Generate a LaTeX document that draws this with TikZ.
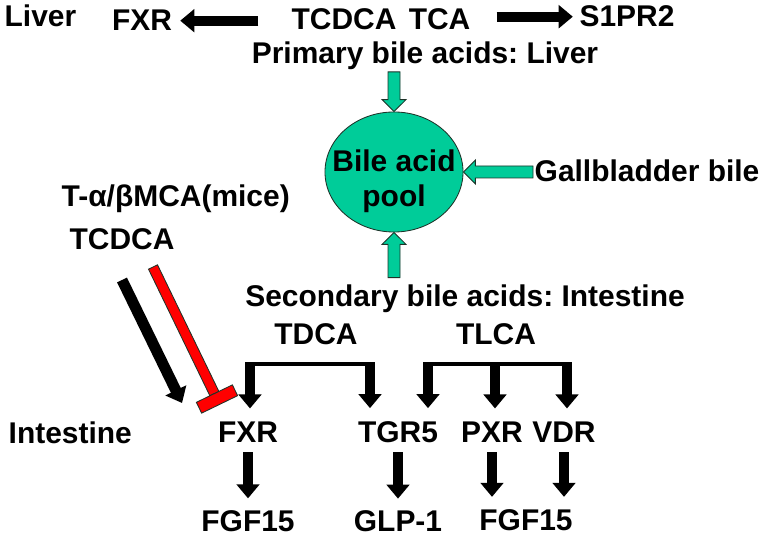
\documentclass[tikz,border=0pt]{standalone}
\usepackage{fontspec}
\setmainfont{Liberation Sans}
\frenchspacing
\usetikzlibrary{arrows.meta,calc,positioning,shapes.geometric}
\definecolor{greeni}{RGB}{0,204,153}
\definecolor{redi}{RGB}{255,0,0}
\definecolor{edgei}{RGB}{30,50,40}
\tikzset{
      mylabel/.style={
        font=\fontsize{21.3}{25}\selectfont\bfseries,
        inner sep=1pt,
        anchor=base
      },
      mypool/.style={
        ellipse,
        fill=greeni,
        draw=edgei,
        line width=0.6pt,
        inner sep=0pt,
        minimum width=3.45cm,
        minimum height=3cm
      },
      myarrow/.style={
        line width=7.1pt,
        -{Triangle[width=16pt,length=10pt]}
      },
      mybracket/.style={
        line width=2.8pt
      },
      mygreenarrow/.style={
        fill=greeni,
        draw=edgei,
        line width=0.6pt,
        to path={let \p1=($(\tikztotarget)-(\tikztostart)$),
                     \n1={atan2(\y1,\x1)},
                     \n2={veclen(\x1,\y1)-8.5} in
          ($(\tikztostart)+(\n1+90:0.15cm)$)
          -- ($(\tikztostart)+(\n1:\n2)+(\n1+90:0.15cm)$)
          -- ($(\tikztostart)+(\n1:\n2)+(\n1+90:0.3cm)$)
          -- (\tikztotarget)
          -- ($(\tikztostart)+(\n1:\n2)+(\n1-90:0.3cm)$)
          -- ($(\tikztostart)+(\n1:\n2)+(\n1-90:0.15cm)$)
          -- ($(\tikztostart)+(\n1-90:0.15cm)$) -- cycle}
      },
      myredbar/.style={
        fill=redi,
        draw=edgei,
        line width=0.6pt,
        to path={let \p1=($(\tikztotarget)-(\tikztostart)$),
                     \n1={atan2(\y1,\x1)},
                     \n2={veclen(\x1,\y1)-4.27} in
          ($(\tikztostart)+(\n1+90:0.125cm)$)
          -- ($(\tikztostart)+(\n1:\n2)+(\n1+90:0.125cm)$)
          -- ($(\tikztostart)+(\n1:\n2)+(\n1-90:0.125cm)$)
          -- ($(\tikztostart)+(\n1-90:0.125cm)$) -- cycle
          ($(\tikztotarget)+(\n1:0.15cm)+(\n1+90:0.5cm)$)
          -- ($(\tikztotarget)+(\n1:0.15cm)+(\n1-90:0.5cm)$)
          -- ($(\tikztotarget)+(\n1:-0.15cm)+(\n1-90:0.5cm)$)
          -- ($(\tikztotarget)+(\n1:-0.15cm)+(\n1+90:0.5cm)$) -- cycle}
      }
    }
\begin{document}
\begin{tikzpicture}[x=0.025cm,y=-0.025cm]
          \useasboundingbox (0,0) rectangle (760,536);

          % liver row
          \node[mylabel,anchor=base west] (liver) at (3,27) {Liver};
          \node[mylabel] (fxrl) at (142,31) {FXR};
          \node[mylabel,anchor=base west] (tcdcal) at (290,30) {TCDCA};
          \node[mylabel,anchor=base east] (tcal) at (472,30) {TCA};
          \node[mylabel] (s1pr) at (627,27) {S1PR2};
          \node[mylabel] (prim) at (425,64) {Primary bile acids: Liver};

          % pool
          \node[mypool] (pool) at (394,172) {};
          \node[mylabel,anchor=center,align=center] (pooltext) at (394,181.5) {Bile acid\\pool};
          \node[mylabel,anchor=base west] (gall) at (533,182) {Gallbladder bile};

          % intestine
          \node[mylabel,anchor=base west] (mca) at (60,207) {T-α/βMCA(mice)};
          \node[mylabel,anchor=base west] (tcdcai) at (68,250) {TCDCA};
          \node[mylabel] (sec) at (465,307) {Secondary bile acids: Intestine};
          \node[mylabel] (tdca) at (316,344) {TDCA};
          \node[mylabel] (tlca) at (496,345) {TLCA};
          \node[mylabel,anchor=base west] (intest) at (7,443) {Intestine};
          \node[mylabel] (fxri) at (248,442) {FXR};
          \node[mylabel] (tgr) at (398,442) {TGR5};
          \node[mylabel] (pxr) at (492,442) {PXR};
          \node[mylabel] (vdr) at (564,442) {VDR};
          \node[mylabel,below=1.63cm of fxri] (fgfa) {FGF15};
          \node[mylabel,below=1.63cm of tgr] (glp) {GLP-1};
          \node[mylabel] (fgfb) at (526,530) {FGF15};

          \coordinate (tdcal) at (250,364);
          \coordinate (tdcar) at (370,364);
          \coordinate (tlcal) at (428,364);
          \coordinate (tlcam) at (495,364);
          \coordinate (tlcar) at (567,364);
          \coordinate (mcablack) at (122,280);
          \coordinate (fxract) at (182,403);
          \coordinate (mcared) at (153,267);
          \coordinate (fxrblock) at (217,399);

          \draw[myarrow,shorten <=22.5pt,shorten >=4.7pt] (tcdcal.west |- fxrl.east) -- (fxrl.east);
          \draw[myarrow,shorten <=17.5pt,shorten >=3.6pt] (tcal.east |- s1pr.west) -- (s1pr.west);

          \draw[mygreenarrow] (prim.south -| pool.north) to (pool.north);
          \draw[mygreenarrow] (gall.west |- pool.east) to (pool.east);
          \draw[mygreenarrow] ($(sec.north -| pool.south)+(0,-6)$) to (pool.south);

          \draw[myarrow,line width=7.8pt] (mcablack) -- (fxract);
          \draw[myredbar] (mcared) to (fxrblock);

          \draw[mybracket] (tdcal) -- (tdcar);
          \draw[mybracket] (tlcal) -- (tlcar);
          \foreach \c/\n in {tdcal/fxri,tdcar/tgr,tlcal/tgr,tlcam/pxr,tlcar/vdr}
            \draw[myarrow,shorten >=8pt] ($(\c)+(0,-2)$) -- (\c |- \n.north);
          \foreach \a/\b in {fxri/fgfa,tgr/glp,pxr/fgfb,vdr/fgfb}
            \draw[myarrow,shorten <=6pt,shorten >=7.5pt] (\a.south) -- (\a.south |- \b.north);
        \end{tikzpicture}
\end{document}
